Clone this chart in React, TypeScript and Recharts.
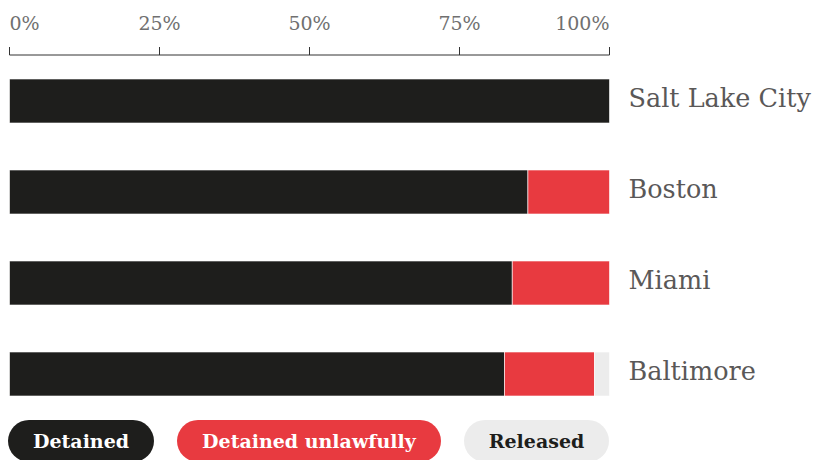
import React from "react";
import { BarChart, Bar, XAxis, YAxis, Legend } from "recharts";

const cities = ["Salt Lake City", "Boston", "Miami", "Baltimore"];
const detained = [100, 86.4, 83.8, 82.5];
const detainedUnlawfully = [0, 13.6, 16.2, 15.0];
const released = [0, 0, 0, 2.5];
const xTicks = [0, 25, 50, 75, 100];

const seriesNames = ["Detained", "Detained unlawfully", "Released"];
const seriesColors = ["#1e1e1c", "#e83a40", "#ececec"];
const legendTextColors = ["#ffffff", "#ffffff", "#1e1e1c"];

const data = cities.map((city, i) => ({
  city,
  detained: detained[i],
  unlawful: detainedUnlawfully[i],
  released: released[i],
}));

const SERIF = "'DejaVu Serif', serif";

const XTick = (props: any) => {
  const { x, y, payload, index } = props;
  const anchor = index === 0 ? "start" : index === xTicks.length - 1 ? "end" : "middle";
  return (
    <text x={x} y={y} textAnchor={anchor} fontFamily={SERIF} fontSize={19} fill="#707070">
      {payload.value}%
    </text>
  );
};

const YTick = (props: any) => {
  const { x, y, payload } = props;
  return (
    <text x={x} y={y} dy={6} textAnchor="start" fontFamily={SERIF} fontSize={25.5} fill="#5a5858">
      {payload.value}
    </text>
  );
};

const LegendContent = (props: any) => {
  const payload = props.payload || [];
  return (
    <div style={{ display: "flex", gap: 23, margin: 0, padding: 0 }}>
      {payload.map((p: any, i: number) => (
        <div
          key={p.value}
          style={{
            height: 42,
            lineHeight: "42px",
            borderRadius: 21,
            padding: "0 25px",
            background: seriesColors[i],
            color: legendTextColors[i],
            fontFamily: SERIF,
            fontWeight: "bold",
            fontSize: 19,
            whiteSpace: "nowrap",
          }}
        >
          {p.value}
        </div>
      ))}
    </div>
  );
};

export default function App() {
  return (
    <div style={{ position: "absolute", left: 0, top: 0, width: 817, height: 460, background: "#fff" }}>
      <BarChart
        width={817}
        height={460}
        data={data}
        layout="vertical"
        margin={{ top: 0, right: 0.5, bottom: 41, left: 9.5 }}
        barCategoryGap={47}
      >
        <XAxis
          type="number"
          orientation="top"
          domain={[0, 100]}
          ticks={xTicks}
          height={55}
          tickSize={8}
          tickMargin={17}
          tick={<XTick />}
          axisLine={{ stroke: "#333333", strokeWidth: 1 }}
          tickLine={{ stroke: "#333333", strokeWidth: 1 }}
          interval={0}
        />
        <YAxis
          type="category"
          dataKey="city"
          orientation="right"
          width={207}
          axisLine={false}
          tickLine={false}
          tickSize={0}
          tickMargin={19}
          tick={<YTick />}
          interval={0}
        />
        <Legend
          layout="horizontal"
          verticalAlign="middle"
          align="center"
          wrapperStyle={{ left: 8, top: 420, width: 700, height: 42 }}
          content={<LegendContent />}
        />
        <Bar dataKey="detained" name={seriesNames[0]} stackId="a" fill={seriesColors[0]} barSize={44} stroke="#ffffff" strokeOpacity={0.6} strokeWidth={1} isAnimationActive={false} />
        <Bar dataKey="unlawful" name={seriesNames[1]} stackId="a" fill={seriesColors[1]} barSize={44} stroke="#ffffff" strokeOpacity={0.6} strokeWidth={1} isAnimationActive={false} />
        <Bar dataKey="released" name={seriesNames[2]} stackId="a" fill={seriesColors[2]} barSize={44} stroke="#ffffff" strokeOpacity={0.6} strokeWidth={1} isAnimationActive={false} />
      </BarChart>
    </div>
  );
}
